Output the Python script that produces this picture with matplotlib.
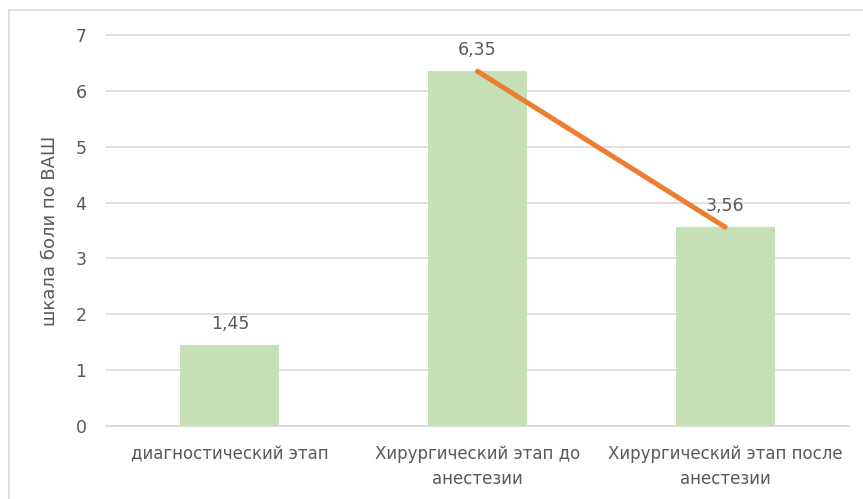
import matplotlib.pyplot as plt
from matplotlib.patches import Rectangle

categories = ['диагностический этап', 'Хирургический этап до\nанестезии',
              'Хирургический этап после\nанестезии']
values = [1.45, 6.35, 3.56]
value_labels = ['1,45', '6,35', '3,56']
# orange trend line drawn over the last two bars
line_idx = [1, 2]
line_values = [6.35, 3.56]
yticks = [0, 1, 2, 3, 4, 5, 6, 7]

text_color = '#595959'

fig = plt.figure(figsize=(8.63, 4.99), dpi=100)
ax = fig.add_axes([0.1228, 0.1463, 0.8610, 0.7836])

x = list(range(len(categories)))
ax.bar(x, values, width=0.4, color='#C5E0B4', zorder=2)
ax.plot(line_idx, line_values, color='#ED7D31', linewidth=3.6,
        solid_capstyle='round', zorder=3)

for xi, v, lab in zip(x, values, value_labels):
    ax.annotate(lab, (xi, v), xytext=(0, 9), textcoords='offset points',
                ha='center', va='bottom', fontsize=12.5, color=text_color)

ax.set_xlim(-0.5, 2.5)
ax.set_ylim(0, 7)
ax.set_yticks(yticks)
ax.set_xticks(x)
ax.set_xticklabels(categories, fontsize=12, color=text_color, linespacing=1.5)
ax.tick_params(axis='y', labelsize=12.5, labelcolor=text_color, length=0, pad=14)
ax.tick_params(axis='x', length=0, pad=14)
ax.grid(axis='y', color='#D9D9D9', linewidth=1.2, zorder=0)
for gl in ax.get_ygridlines():
    gl.set_clip_on(False)
ax.set_axisbelow(True)
for side in ['top', 'right', 'left']:
    ax.spines[side].set_visible(False)
ax.spines['bottom'].set_color('#D9D9D9')
ax.spines['bottom'].set_linewidth(1.2)
ax.set_ylabel('шкала боли по ВАШ', fontsize=13, color=text_color, labelpad=12)

# chart frame (runs off the right and bottom edges)
fig.patches.append(Rectangle((0.0105, -0.05), 1.05, 1.03, transform=fig.transFigure,
                             fill=False, edgecolor='#D9D9D9', linewidth=1.2))

fig.savefig('out.png', dpi=100)
